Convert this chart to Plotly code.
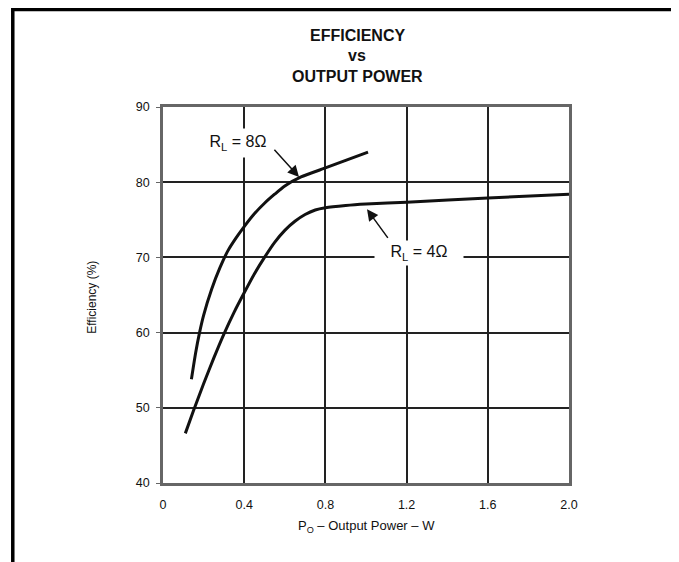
import plotly.graph_objects as go

# Data
x_8ohm = [0.14, 0.16, 0.18, 0.20, 0.24, 0.28, 0.32, 0.36, 0.40, 0.45, 0.50, 0.55, 0.60, 0.68, 0.80, 0.90, 1.01]
y_8ohm = [53.8, 57.2, 60.0, 62.3, 65.8, 68.6, 70.9, 72.6, 74.1, 75.8, 77.2, 78.4, 79.5, 80.7, 81.9, 82.9, 84.0]

x_4ohm = [0.11, 0.15, 0.20, 0.25, 0.30, 0.35, 0.40, 0.45, 0.50, 0.55, 0.60, 0.65, 0.70, 0.75, 0.80, 0.90, 1.00, 1.20, 1.60, 2.00]
y_4ohm = [46.6, 49.6, 53.2, 56.6, 59.8, 62.7, 65.3, 67.8, 70.0, 72.0, 73.6, 74.8, 75.7, 76.3, 76.6, 76.9, 77.1, 77.35, 77.9, 78.4]

x_ticks = [0, 0.4, 0.8, 1.2, 1.6, 2.0]
x_tick_labels = ["0", "0.4", "0.8", "1.2", "1.6", "2.0"]
y_ticks = [40, 50, 60, 70, 80, 90]

FONT = "Liberation Sans, Arial, sans-serif"

fig = go.Figure()
for xs, ys in ((x_8ohm, y_8ohm), (x_4ohm, y_4ohm)):
    fig.add_trace(go.Scatter(x=xs, y=ys, mode="lines",
                             line=dict(color="#111", width=3, shape="spline", smoothing=0.6),
                             showlegend=False, hoverinfo="skip"))

def txt(text, x, y, size, **kw):
    d = dict(text=text, x=x, y=y, xref="paper", yref="paper", showarrow=False,
             xanchor="center", yanchor="middle",
             font=dict(size=size, color="#111", family=FONT))
    d.update(kw)
    return d

annotations = [
    txt("<b>EFFICIENCY</b>", 0.478, 1.191, 16),
    txt("<b>vs</b>", 0.478, 1.136, 16),
    txt("<b>OUTPUT POWER</b>", 0.478, 1.080, 16),
    txt("P<sub>O</sub> – Output Power – W", 0.5, -0.117, 13),
    txt("Efficiency (%)", -0.175, 0.495, 12, textangle=-90),
    # curve labels
    dict(text="R<sub>L</sub> = 8Ω", x=0.369, y=85.2, xref="x", yref="y",
         xanchor="center", yanchor="middle",
         showarrow=False, bgcolor="white", width=68, height=26,
         font=dict(size=16, color="#111", family=FONT)),
    dict(text="", x=0.67, y=80.7, ax=0.542, ay=84.5, xref="x", yref="y",
         axref="x", ayref="y", showarrow=True, arrowhead=2, arrowsize=1.5,
         arrowwidth=1.5, arrowcolor="#111"),
    dict(text="R<sub>L</sub> = 4Ω", x=1.261, y=70.6, xref="x", yref="y",
         xanchor="center", yanchor="middle",
         showarrow=False, bgcolor="white", width=86, height=22,
         font=dict(size=16, color="#111", family=FONT)),
    dict(text="", x=1.005, y=76.4, ax=1.113, ay=72.4, xref="x", yref="y",
         axref="x", ayref="y", showarrow=True, arrowhead=2, arrowsize=1.5,
         arrowwidth=1.5, arrowcolor="#111"),
]

fig.update_layout(
    width=671, height=554,
    margin=dict(l=155, r=110, t=99, b=79),
    paper_bgcolor="white", plot_bgcolor="white",
    annotations=annotations,
    shapes=[dict(type="rect", xref="paper", yref="paper",
                 x0=-0.370, x1=1.259, y0=-0.25, y1=1.259,
                 line=dict(color="black", width=3.5), layer="above")],
    font=dict(family=FONT, color="#111"),
)
fig.update_xaxes(range=[0, 2.0], tickvals=x_ticks, ticktext=x_tick_labels,
                 showgrid=True, gridcolor="#222", gridwidth=1.5,
                 showline=True, linecolor="#666", linewidth=2.5, mirror=True,
                 ticks="", ticklabelstandoff=8, zeroline=False,
                 tickfont=dict(size=12.5, color="#111", family=FONT))
fig.update_yaxes(range=[40, 90], tickvals=y_ticks,
                 showgrid=True, gridcolor="#222", gridwidth=1.5,
                 showline=True, linecolor="#666", linewidth=2.5, mirror=True,
                 ticks="outside", ticklen=4, tickcolor="#666", ticklabelstandoff=4,
                 zeroline=False,
                 tickfont=dict(size=12.5, color="#111", family=FONT))

fig.write_html("out.html")
